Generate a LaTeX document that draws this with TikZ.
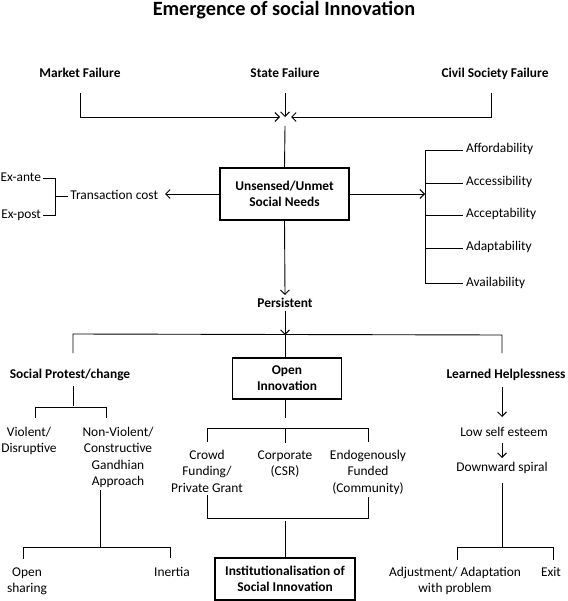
\documentclass[tikz,border=0pt]{standalone}
\usepackage{fontspec}
\setmainfont{Carlito}
\usetikzlibrary{arrows.meta}
\begin{document}
\begin{tikzpicture}[x=1pt,y=-1pt,
  lbl/.style={inner sep=0pt, outer sep=0pt, anchor=base, text height=9.5pt, text depth=3.5pt, font=\fontsize{13.4}{16.3}\selectfont},
  mlbl/.style={inner sep=0pt, outer sep=0pt, anchor=base, align=center, font=\fontsize{13.4}{16.3}\selectfont},
  bl/.style={font=\fontsize{13.4}{16.3}\selectfont\bfseries},
  conn/.style={line width=0.9pt},
  arr/.style={conn, -{Straight Barb[length=4.5pt,width=9pt]}},
  thickbox/.style={draw, line width=1.8pt, inner sep=0pt, outer sep=0pt, align=center, font=\fontsize{13.4}{16.3}\selectfont\bfseries},
  thinbox/.style={draw, line width=1.2pt, inner sep=0pt, outer sep=0pt, align=center, font=\fontsize{13.4}{16.3}\selectfont\bfseries}
]
\useasboundingbox (0,0) rectangle (567,601);

% title
\node[inner sep=0pt, anchor=base, font=\fontsize{20.3}{24}\selectfont\bfseries] (title) at (284,16) {Emergence of social Innovation};

% failures
\node[lbl,bl] (market) at (80,78) {Market Failure};
\node[lbl,bl] (state) at (285,78) {State Failure};
\node[lbl,bl] (civil) at (495,78) {Civil Society Failure};
\coordinate (meet) at (285,117);
\draw[arr] ([yshift=-11.5pt]market.south) |- ([xshift=-5pt]meet);
\draw[arr] ([yshift=-11.5pt]state.south) -- (meet);
\draw[arr] ([xshift=-4pt,yshift=-11.5pt]civil.south) |- ([xshift=6pt]meet);

% central box
\node[thickbox, minimum width=129pt, minimum height=52pt] (needs) at (284.5,194) {Unsensed/Unmet\\Social Needs};
\draw[conn] ([yshift=-9pt]meet) -- (needs.north);

% left: transaction cost
\node[lbl, anchor=base east] (trans) at (158,199.5) {Transaction cost};
\node[lbl, anchor=base east] (exante) at (41,181.5) {Ex-ante};
\node[lbl, anchor=base east] (expost) at (41,218.5) {Ex-post};
\coordinate (tcend) at (165,195);
\draw[arr] (needs.west) -- (needs.west -| tcend);
\draw[conn] ([xshift=1.5pt]exante.east) -- ++(12.5,0) |- ([xshift=1.5pt]expost.east);
\draw[conn] ([xshift=-2pt]trans.west) -- ++(-12.5,0);

% right: the five A's
\node[lbl, anchor=base west] (afford) at (466,153) {Affordability};
\node[lbl, anchor=base west] (access) at (466,186) {Accessibility};
\node[lbl, anchor=base west] (accept) at (466,218) {Acceptability};
\node[lbl, anchor=base west] (adapt) at (466,251) {Adaptability};
\node[lbl, anchor=base west] (avail) at (466,286) {Availability};
\coordinate (rbr) at (425,194);
\draw[arr] (needs.east) -- (needs.east -| rbr);
\draw[conn] (rbr |- afford.west) -- (rbr |- avail.west);
\foreach \n in {afford,access,accept,adapt,avail}
  \draw[conn] (rbr |- \n.west) -- ([xshift=-3pt]\n.west);

% persistent
\node[lbl,bl] (persist) at (285,307.5) {Persistent};
\draw[arr] (needs.south) -- ([yshift=3pt]persist.north);
\coordinate (pj) at (285,335);
\draw[arr] (persist.south) -- (pj);

% three branches
\node[lbl,bl] (sp) at (70,378.5) {Social Protest/change};
\node[thinbox, minimum width=109pt, minimum height=41pt] (oi) at (287,378.5) {Open\\Innovation};
\node[lbl,bl] (lh) at (506,378.5) {Learned Helplessness};
\draw[conn] ([xshift=3pt,yshift=16pt]sp.north) -- ++(0,-19) -- ([xshift=-4pt]lh.north |- pj) -- ([xshift=-4pt,yshift=16pt]lh.north);
\draw[conn] (pj) -- (pj |- oi.north);

% social protest subtree
\node[mlbl] (viol) at (29,452.8) {Violent/\\Disruptive};
\node[mlbl] (nonv) at (118,485.4) {Non-Violent/\\Constructive\\Gandhian\\Approach};
\draw[conn] ([xshift=3pt,yshift=-4pt]sp.south) -- ++(0,20);
\draw[conn] ([xshift=6pt,yshift=9pt]viol.north) -- ++(0,-11) -| ([xshift=-12pt,yshift=9pt]nonv.north);
\node[mlbl] (opens) at (27,592.8) {Open\\sharing};
\node[lbl] (inertia) at (172,576.5) {Inertia};
\draw[conn] ([xshift=-18pt,yshift=-2pt]nonv.south) -- ++(0,57);
\draw[conn] ([xshift=-4pt,yshift=9pt]opens.north) -- ++(0,-11) -| ([xshift=-2pt,yshift=9pt]inertia.north);

% open innovation subtree
\node[mlbl] (crowd) at (207,492.1) {Crowd\\Funding/\\Private Grant};
\node[mlbl] (corp) at (285,475.8) {Corporate\\(CSR)};
\node[mlbl] (endog) at (368,492.1) {Endogenously\\Funded\\(Community)};
\draw[conn] (pj |- oi.south) -- ++(0,19);
\draw[conn] ([yshift=8pt]crowd.north) -- ++(0,-14) -| ([yshift=8pt]endog.north);
\draw[conn] ([yshift=8pt]corp.north) -- ++(0,-14);
\node[thickbox, minimum width=140pt, minimum height=42pt] (inst) at (285,579) {Institutionalisation of\\Social Innovation};
\draw[conn] ([yshift=-3pt]crowd.south) -- ++(0,23) -| ([yshift=-3pt]endog.south);
\draw[conn] (inst.north) -- ++(0,-37);

% learned helplessness subtree
\node[lbl] (lowse) at (504,436.5) {Low self esteem};
\node[lbl] (down) at (502,471.5) {Downward spiral};
\draw[arr] ([xshift=-4pt,yshift=-5pt]lh.south) -- ([xshift=-2pt,yshift=10pt]lowse.north);
\draw[arr] ([xshift=-2pt,yshift=-3pt]lowse.south) -- ([yshift=4pt]down.north);
\node[mlbl] (adj) at (455,592.8) {Adjustment/ Adaptation\\with problem};
\node[lbl] (exit) at (551,576.5) {Exit};
\draw[conn] ([yshift=-8pt]down.south) -- ++(0,64);
\draw[conn] ([xshift=2pt,yshift=7pt]adj.north) -- ++(0,-13) -| ([xshift=2pt,yshift=7pt]exit.north);
\end{tikzpicture}
\end{document}
